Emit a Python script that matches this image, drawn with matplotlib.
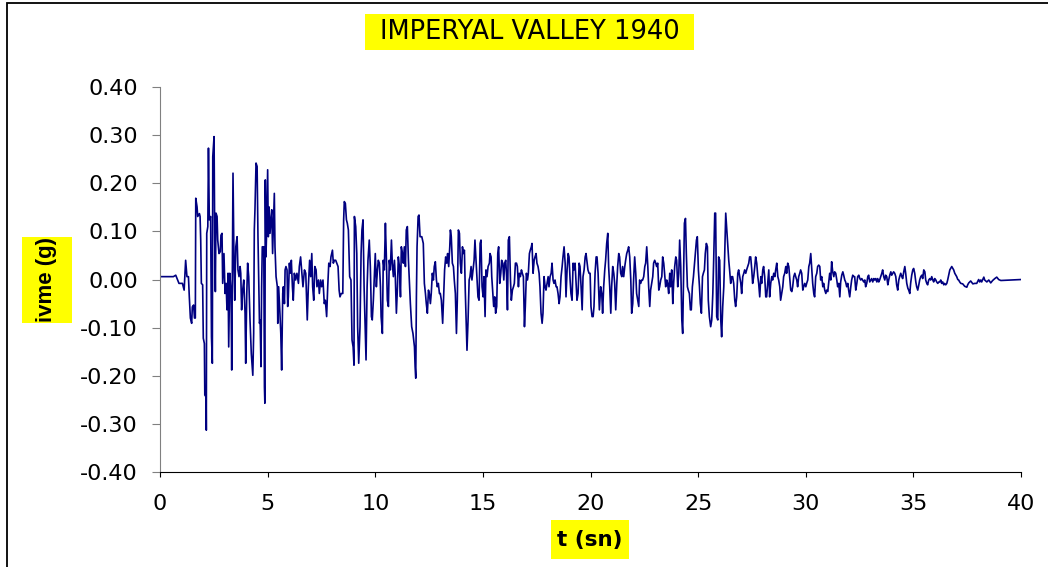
import matplotlib
matplotlib.use("Agg")
import matplotlib.pyplot as plt
from matplotlib.patches import Rectangle

# IMPERYAL VALLEY 1940 ivme kaydi (okunan tepe noktalari)
t_sn = [
    0.00, 0.62, 0.73, 0.88, 1.04, 1.12, 1.19, 1.25, 1.32, 1.36, 1.41, 1.47, 1.50, 1.56, 1.60, 1.64,
    1.66, 1.72, 1.75, 1.83, 1.86, 1.89, 1.92, 1.98, 2.01, 2.06, 2.08, 2.14, 2.15, 2.17, 2.22, 2.25,
    2.29, 2.35, 2.39, 2.43, 2.45, 2.51, 2.54, 2.57, 2.60, 2.65, 2.68, 2.74, 2.80, 2.83, 2.88, 2.91,
    2.97, 3.02, 3.07, 3.11, 3.16, 3.19, 3.24, 3.30, 3.33, 3.36, 3.39, 3.44, 3.47, 3.52, 3.58, 3.62,
    3.67, 3.72, 3.75, 3.79, 3.84, 3.89, 3.95, 3.98, 4.03, 4.07, 4.12, 4.18, 4.24, 4.31, 4.35, 4.38,
    4.41, 4.46, 4.51, 4.55, 4.62, 4.65, 4.69, 4.72, 4.75, 4.82, 4.85, 4.87, 4.89,
    4.92, 4.95, 5.00, 5.03, 5.06, 5.11, 5.16, 5.19, 5.23, 5.27, 5.31, 5.34, 5.39, 5.45, 5.47, 5.51,
    5.57, 5.61, 5.65, 5.70, 5.73, 5.78, 5.81, 5.85, 5.90, 5.93, 5.96, 6.01, 6.05, 6.10, 6.15, 6.19,
    6.24, 6.30, 6.36, 6.43, 6.47, 6.53, 6.58, 6.64, 6.71, 6.77, 6.84, 6.89, 6.95, 7.00, 7.05, 7.09,
    7.14, 7.19, 7.25, 7.29, 7.36, 7.40, 7.46, 7.51, 7.57, 7.63, 7.68, 7.74, 7.79, 7.84, 7.90, 7.94,
    8.01, 8.05, 8.10, 8.16, 8.21, 8.27, 8.32, 8.36, 8.42, 8.49, 8.53, 8.56, 8.61, 8.66, 8.70, 8.75,
    8.81, 8.87, 8.92, 8.97, 9.01, 9.03, 9.09, 9.14, 9.18, 9.23, 9.29, 9.34, 9.38, 9.43, 9.48, 9.52,
    9.57, 9.62, 9.66, 9.72, 9.77, 9.82, 9.86, 9.91, 9.96, 10.00, 10.05, 10.10, 10.14, 10.19,
    10.24, 10.27, 10.33, 10.37, 10.42, 10.47, 10.51, 10.56, 10.61, 10.65, 10.70, 10.75, 10.79, 10.84,
    10.89, 10.93, 10.98, 11.03, 11.07, 11.12, 11.17, 11.21, 11.26, 11.30, 11.35, 11.40, 11.44, 11.49,
    11.54, 11.58, 11.63, 11.69, 11.75, 11.82, 11.85, 11.88, 11.91, 11.94, 11.99, 12.03, 12.08, 12.16,
    12.23, 12.28, 12.33, 12.37, 12.42, 12.47, 12.51, 12.56, 12.60, 12.65, 12.70, 12.74, 12.79, 12.84,
    12.88, 12.93, 12.98, 13.02, 13.07, 13.13, 13.18, 13.22, 13.27, 13.32, 13.36, 13.41, 13.46, 13.49,
    13.53, 13.58, 13.63, 13.67, 13.72, 13.77, 13.81, 13.86, 13.91, 13.95, 14.00, 14.05, 14.09, 14.14,
    14.18, 14.23, 14.26, 14.31, 14.36, 14.40, 14.45, 14.49, 14.54, 14.59, 14.63, 14.68, 14.73, 14.77,
    14.82, 14.87, 14.91, 14.96, 15.01, 15.05, 15.10, 15.14, 15.19, 15.24, 15.30,
    15.33, 15.38, 15.41, 15.46, 15.50, 15.55, 15.59, 15.64, 15.69, 15.73, 15.78, 15.83, 15.87, 15.92,
    15.97, 16.01, 16.06, 16.10, 16.14, 16.18, 16.23, 16.28, 16.32, 16.37, 16.42, 16.46, 16.51, 16.56,
    16.60, 16.65, 16.69, 16.74, 16.79, 16.83, 16.88, 16.93, 16.97, 17.02, 17.07, 17.11, 17.16, 17.20,
    17.25, 17.28, 17.33, 17.38, 17.42, 17.47, 17.51, 17.56, 17.61, 17.65, 17.70, 17.75, 17.79, 17.84,
    17.89, 17.93, 17.98, 18.03, 18.07, 18.12, 18.17, 18.21, 18.26, 18.30, 18.35, 18.40, 18.44, 18.49,
    18.54, 18.58, 18.63, 18.68, 18.72, 18.77, 18.82, 18.86, 18.91, 18.96, 19.00, 19.05, 19.09, 19.14,
    19.19, 19.23, 19.28, 19.33, 19.37, 19.42, 19.47, 19.51, 19.56, 19.61, 19.65, 19.70, 19.75, 19.79,
    19.84, 19.88, 19.93, 19.98, 20.02, 20.07, 20.12, 20.16, 20.21, 20.26, 20.30, 20.35, 20.41,
    20.47, 20.52, 20.56, 20.61, 20.66, 20.70, 20.75, 20.80, 20.84, 20.89, 20.94, 20.98, 21.03, 21.08,
    21.12, 21.17, 21.22, 21.26, 21.31, 21.35, 21.40, 21.45, 21.49, 21.54, 21.59, 21.63, 21.68, 21.73,
    21.77, 21.82, 21.87, 21.91, 21.96, 22.00, 22.05, 22.10, 22.14, 22.19, 22.24, 22.28, 22.33, 22.38,
    22.42, 22.47, 22.52, 22.56, 22.61, 22.66, 22.70, 22.75, 22.79, 22.84, 22.89, 22.93, 22.98, 23.03,
    23.07, 23.12, 23.17, 23.21, 23.26, 23.31, 23.35, 23.40, 23.45, 23.49, 23.54, 23.58, 23.63, 23.68,
    23.72, 23.77, 23.82, 23.86, 23.91, 23.96, 24.00, 24.05, 24.10, 24.14, 24.19, 24.24, 24.28, 24.33,
    24.36, 24.41, 24.45, 24.50, 24.54, 24.59, 24.64, 24.68, 24.73, 24.78, 24.82, 24.87, 24.92, 24.96,
    25.01, 25.06, 25.10, 25.15, 25.20, 25.24, 25.29, 25.33, 25.38, 25.43, 25.47, 25.52,
    25.58, 25.63, 25.68, 25.72, 25.77, 25.81, 25.86, 25.91, 25.95, 26.00, 26.05, 26.09, 26.14, 26.19,
    26.23, 26.28, 26.33, 26.37, 26.42, 26.46, 26.51, 26.56, 26.60, 26.65, 26.70, 26.74, 26.79, 26.84,
    26.88, 26.93, 26.98, 27.02, 27.07, 27.12, 27.16, 27.21, 27.25, 27.30, 27.35, 27.39, 27.44, 27.49,
    27.53, 27.58, 27.63, 27.67, 27.72, 27.77, 27.81, 27.86, 27.91, 27.95, 28.00, 28.04, 28.09, 28.14,
    28.18, 28.23, 28.28, 28.32, 28.37, 28.42, 28.46, 28.51, 28.56, 28.60, 28.65, 28.70, 28.74, 28.79,
    28.83, 28.88, 28.93, 28.97, 29.02, 29.07, 29.11, 29.16, 29.21, 29.25, 29.30, 29.35, 29.39, 29.44,
    29.49, 29.53, 29.58, 29.62, 29.67, 29.72, 29.76, 29.81, 29.86, 29.90, 29.95, 30.00, 30.04, 30.09,
    30.14, 30.18, 30.23, 30.27, 30.32, 30.37, 30.41, 30.46, 30.51, 30.55, 30.60,
    30.65, 30.69, 30.74, 30.79, 30.83, 30.88, 30.93, 30.97, 31.02, 31.06, 31.11, 31.16, 31.20, 31.25,
    31.30, 31.34, 31.39, 31.44, 31.48, 31.53, 31.58, 31.62, 31.67, 31.72, 31.76, 31.81, 31.85, 31.90,
    31.95, 31.99, 32.04, 32.09, 32.13, 32.18, 32.23, 32.27, 32.32, 32.37, 32.41, 32.46, 32.51, 32.55,
    32.60, 32.64, 32.69, 32.74, 32.78, 32.83, 32.88, 32.92, 32.97, 33.02, 33.06, 33.11, 33.16, 33.20,
    33.25, 33.30, 33.34, 33.39, 33.43, 33.48, 33.53, 33.57, 33.62, 33.67, 33.71, 33.76, 33.81, 33.85,
    33.90, 33.95, 33.99, 34.04, 34.08, 34.13, 34.18, 34.22, 34.27, 34.32, 34.36, 34.41, 34.46, 34.50,
    34.55, 34.60, 34.64, 34.69, 34.74, 34.78, 34.83, 34.87, 34.92, 34.97, 35.01, 35.06, 35.11, 35.15,
    35.20, 35.25, 35.29, 35.34, 35.39, 35.43, 35.48, 35.53, 35.57, 35.62, 35.66, 35.71, 35.76, 35.80,
    35.85, 35.90, 35.94, 35.99, 36.04, 36.08, 36.13, 36.18, 36.22, 36.27, 36.31, 36.36, 36.41, 36.45,
    36.50, 36.55, 36.59, 36.64, 36.69, 36.73, 36.78, 36.83, 36.87, 36.92, 36.97, 37.01, 37.06, 37.10,
    37.15, 37.20, 37.29, 37.38, 37.48, 37.52, 37.57, 37.66, 37.76, 37.85, 37.94, 38.03, 38.08, 38.13,
    38.17, 38.27, 38.31, 38.41, 38.50, 38.59, 38.68, 38.78, 38.87, 38.96, 39.06, 40.00,
]

ivme_g = [
    0.006, 0.006, 0.009, -0.008, -0.008, -0.022, 0.040, 0.006, 0.006, -0.036, -0.080, -0.091, -0.057, -0.053, -0.080, -0.080,
    0.169, 0.151, 0.131, 0.137, 0.131, 0.082, -0.008, -0.011, -0.122, -0.133, -0.240, -0.244, -0.313, 0.096, 0.110, 0.273,
    0.124, 0.131, -0.119, -0.174, 0.255, 0.297, 0.089, -0.025, 0.138, 0.131, 0.082, 0.054, 0.058, 0.092, 0.096, -0.008,
    0.054, -0.029, -0.008, -0.063, 0.013, -0.140, 0.013, -0.029, -0.188, 0.013, 0.221, 0.020, -0.043, 0.068, 0.089, 0.020,
    0.006, 0.027, 0.013, -0.063, -0.022, -0.001, -0.070, -0.174, -0.029, 0.034, 0.006, -0.084, -0.154, -0.199, -0.112, 0.103,
    0.145, 0.242, 0.235, 0.089, -0.091, -0.084, -0.181, -0.015, 0.068, 0.068, -0.223, -0.257, 0.207,
    0.047, 0.096, 0.228, 0.089, 0.151, 0.096, 0.131, 0.145, 0.054, 0.117, 0.179, 0.068, 0.006, -0.015, -0.091, -0.015,
    -0.070, -0.112, -0.188, -0.029, -0.015, -0.050, 0.020, 0.027, 0.020, -0.056, -0.036, 0.034, 0.013, 0.040, -0.015, -0.043,
    0.013, -0.001, 0.013, -0.008, 0.027, 0.047, 0.020, -0.015, 0.020, 0.013, -0.084, -0.015, 0.040, 0.006, 0.054, -0.015,
    -0.043, 0.027, 0.020, -0.015, -0.001, -0.029, -0.001, -0.015, -0.001, -0.050, -0.043, -0.077, -0.015, 0.034, 0.027, 0.047,
    0.061, 0.034, 0.040, 0.040, 0.034, 0.027, -0.022, -0.036, -0.029, -0.029, 0.124, 0.162, 0.158, 0.124, 0.117, 0.103,
    0.006, -0.001, -0.126, -0.140, -0.178, 0.131, 0.110, 0.054, -0.098, -0.174, -0.098, 0.054, 0.103, 0.124, -0.015, -0.084,
    -0.167, -0.015, 0.040, 0.082, 0.027, -0.077, -0.084, -0.043, 0.013, 0.054, -0.015, 0.020, 0.040, 0.034,
    -0.015, -0.077, -0.112, 0.040, 0.020, 0.117, 0.054, -0.043, -0.056, 0.040, 0.020, 0.082, 0.034, 0.006,
    0.040, 0.006, -0.070, -0.015, 0.047, 0.027, -0.036, 0.068, 0.054, 0.034, 0.068, 0.027, 0.103, 0.110,
    0.040, -0.001, -0.050, -0.098, -0.112, -0.140, -0.181, -0.205, -0.036, 0.068, 0.131, 0.134, 0.089, 0.089,
    0.075, -0.008, -0.029, -0.050, -0.070, -0.022, -0.029, -0.050, -0.029, 0.013, -0.001, 0.027, 0.037, -0.001,
    -0.015, -0.008, -0.029, -0.029, -0.043, -0.091, -0.029, 0.020, 0.047, 0.034, 0.054, 0.027, 0.068, 0.103,
    0.089, 0.034, 0.027, -0.001, -0.029, -0.112, -0.043, 0.103, 0.096, 0.034, 0.013, 0.068, 0.054, 0.061,
    -0.022, -0.098, -0.147, -0.084, -0.001, 0.006, 0.027, -0.001, 0.020, 0.040, 0.082, 0.040, -0.001, -0.036,
    -0.043, 0.075, 0.082, -0.015, -0.036, 0.006, -0.077, 0.020, 0.006, 0.027, 0.034,
    0.054, 0.047, 0.006, -0.029, -0.056, -0.036, -0.070, -0.056, 0.054, 0.068, -0.008, 0.013, 0.040, 0.034,
    -0.001, 0.034, 0.040, 0.006, -0.063, 0.082, 0.089, -0.001, -0.043, -0.022, -0.015, -0.008, 0.034, 0.034,
    0.027, -0.015, 0.013, 0.006, 0.020, 0.013, 0.006, -0.098, -0.056, 0.013, -0.001, 0.013, 0.054, 0.061,
    0.068, 0.075, 0.013, 0.040, 0.047, 0.054, 0.034, 0.027, 0.013, -0.015, -0.070, -0.091, -0.070, 0.006,
    -0.015, -0.022, -0.008, 0.006, -0.015, 0.006, 0.013, 0.034, -0.001, -0.008, -0.001, -0.015, -0.015, -0.029,
    -0.050, -0.036, 0.006, 0.027, 0.047, 0.068, 0.034, -0.036, 0.020, 0.054, 0.047, -0.001, -0.029, -0.043,
    0.034, 0.020, 0.034, -0.008, -0.043, -0.029, 0.034, 0.027, -0.015, -0.063, 0.006, 0.020, 0.047, 0.054,
    0.034, 0.020, 0.013, 0.013, -0.056, -0.077, -0.077, -0.056, 0.013, 0.047, 0.047, 0.013, -0.063,
    -0.015, -0.029, -0.070, -0.015, 0.020, 0.040, 0.075, 0.096, 0.027, -0.015, -0.070, -0.015, 0.027, 0.013,
    -0.008, -0.063, -0.008, 0.027, 0.054, 0.047, 0.013, 0.006, 0.027, 0.006, 0.027, 0.040, 0.054, 0.061,
    0.068, 0.047, -0.001, -0.070, -0.050, -0.001, 0.047, 0.013, -0.029, -0.043, -0.056, -0.001, -0.008, -0.001,
    -0.001, 0.006, 0.027, 0.034, 0.068, 0.027, -0.015, -0.056, -0.022, -0.008, 0.006, 0.034, 0.040, 0.034,
    0.027, 0.034, -0.022, -0.015, -0.001, 0.006, 0.047, 0.034, 0.006, -0.015, -0.001, -0.008, -0.029, 0.013,
    -0.015, 0.020, -0.050, -0.008, 0.027, 0.047, 0.040, -0.015, 0.013, 0.082, 0.027, -0.084, -0.112, 0.027,
    0.117, 0.127, 0.054, -0.015, -0.022, -0.029, -0.063, -0.063, -0.015, 0.006, 0.027, 0.054, 0.082, 0.089,
    0.020, -0.015, -0.050, -0.070, 0.006, 0.013, 0.020, 0.054, 0.075, 0.068, -0.043, -0.077,
    -0.098, -0.084, -0.029, 0.040, 0.138, 0.138, -0.077, -0.084, 0.047, 0.040, -0.084, -0.119, -0.056, -0.015,
    0.047, 0.138, 0.103, 0.075, 0.040, 0.020, -0.008, 0.006, 0.006, -0.008, -0.043, -0.056, -0.036, 0.013,
    0.020, 0.006, -0.008, -0.029, 0.006, 0.013, 0.020, 0.013, 0.020, 0.027, 0.034, 0.047, 0.047, 0.020,
    -0.008, 0.006, 0.027, 0.047, 0.034, 0.006, -0.008, -0.036, 0.006, -0.008, 0.020, 0.027, 0.006, -0.036,
    -0.036, -0.008, 0.020, -0.036, -0.008, 0.006, -0.001, 0.013, 0.006, 0.020, 0.034, 0.006, -0.001, -0.015,
    -0.043, -0.029, -0.015, 0.006, 0.013, 0.027, 0.013, 0.034, 0.027, 0.006, -0.022, -0.025, -0.015, 0.006,
    0.013, 0.006, -0.001, -0.015, 0.006, 0.013, 0.020, 0.013, -0.022, -0.015, -0.008, -0.015, -0.008, -0.001,
    0.027, 0.034, 0.054, 0.027, -0.008, -0.029, -0.036, 0.006, 0.013, 0.027, 0.030,
    0.027, -0.001, 0.006, -0.015, -0.008, -0.022, -0.029, -0.022, -0.025, -0.008, 0.013, -0.001, 0.037, 0.016,
    0.006, 0.016, 0.013, -0.001, -0.015, -0.008, -0.036, -0.005, 0.009, 0.016, 0.009, -0.001, -0.005, -0.015,
    -0.008, -0.022, -0.036, -0.015, -0.001, 0.009, 0.006, 0.006, -0.022, -0.008, 0.006, 0.009, 0.002, -0.001,
    0.002, -0.001, -0.005, -0.001, -0.015, -0.008, 0.006, 0.009, -0.005, -0.001, 0.002, -0.005, 0.002, -0.001,
    0.002, -0.005, 0.002, -0.005, -0.001, 0.006, 0.013, 0.020, 0.006, -0.001, 0.009, 0.006, -0.011, -0.001,
    0.009, 0.016, 0.009, 0.013, 0.016, 0.013, 0.006, -0.011, -0.022, -0.001, 0.006, 0.013, 0.006, 0.002,
    0.016, 0.027, 0.013, -0.008, -0.018, -0.022, -0.029, -0.008, 0.009, 0.020, 0.023, 0.013, -0.005, -0.015,
    -0.022, -0.011, -0.001, 0.006, 0.009, 0.002, 0.020, 0.016, -0.001, -0.008, -0.011, -0.001, 0.002, -0.001,
    0.006, -0.001, -0.005, 0.002, -0.001, -0.005, -0.008, -0.005, -0.005, -0.001, -0.008, -0.005, -0.011, -0.008,
    -0.011, -0.008, -0.001, 0.009, 0.020, 0.023, 0.027, 0.023, 0.020, 0.013, 0.009, 0.006, 0.000, -0.001,
    -0.005, -0.008, -0.009, -0.014, -0.016, -0.011, -0.007, -0.003, -0.009, -0.008, -0.008, 0.000, -0.005, -0.001,
    -0.005, 0.005, -0.001, -0.005, -0.001, -0.007, -0.002, 0.002, 0.005, 0.000, -0.002, 0.000,
]

x_ticks = [0, 5, 10, 15, 20, 25, 30, 35, 40]
y_ticks = [-0.40, -0.30, -0.20, -0.10, 0.00, 0.10, 0.20, 0.30, 0.40]
y_tick_labels = ["-0.40", "-0.30", "-0.20", "-0.10", "0.00", "0.10", "0.20", "0.30", "0.40"]

baslik = "IMPERYAL VALLEY 1940"
x_etiket = "t (sn)"
y_etiket = "ivme (g)"

fig = plt.figure(figsize=(10.48, 5.67), dpi=100)
ax = fig.add_axes([0.1527, 0.1675, 0.8216, 0.6790])

ax.plot(t_sn, ivme_g, color="#000080", linewidth=1.2)

ax.set_xlim(0, 40)
ax.set_ylim(-0.40, 0.40)
ax.set_xticks(x_ticks)
ax.set_yticks(y_ticks)
ax.set_yticklabels(y_tick_labels)

for s in ["top", "right"]:
    ax.spines[s].set_visible(False)
ax.spines["left"].set_color("#808080")
ax.spines["bottom"].set_color("black")

ax.tick_params(axis="y", direction="out", length=5.8, width=0.8, color="#808080",
               pad=10, labelsize=16)
ax.tick_params(axis="x", direction="out", length=3.6, width=0.8, color="black",
               pad=12, labelsize=16)

# sari kutular
fig.patches.append(Rectangle((0.3483, 0.9118), 0.3139, 0.0635, transform=fig.transFigure,
                             facecolor="yellow", edgecolor="none", zorder=0))
fig.patches.append(Rectangle((0.0210, 0.4303), 0.0477, 0.1517, transform=fig.transFigure,
                             facecolor="yellow", edgecolor="none", zorder=0))
fig.patches.append(Rectangle((0.5258, 0.0141), 0.0744, 0.0688, transform=fig.transFigure,
                             facecolor="yellow", edgecolor="none", zorder=0))

fig.text(0.5053, 0.9436, baslik, ha="center", va="center", fontsize=18.5)
fig.text(0.0448, 0.5062, y_etiket, ha="center", va="center", rotation=90,
         fontsize=16, fontweight="bold", family="Liberation Sans")
fig.text(0.5630, 0.0485, x_etiket, ha="center", va="center", fontsize=15.5,
         fontweight="bold")

# dis cerceve
fig.patches.append(Rectangle((7 / 1048, -0.1), 1.2, 1.1 - 2.5 / 567, transform=fig.transFigure,
                             facecolor="none", edgecolor="black", linewidth=1.3))

fig.savefig("out.png", dpi=100)
